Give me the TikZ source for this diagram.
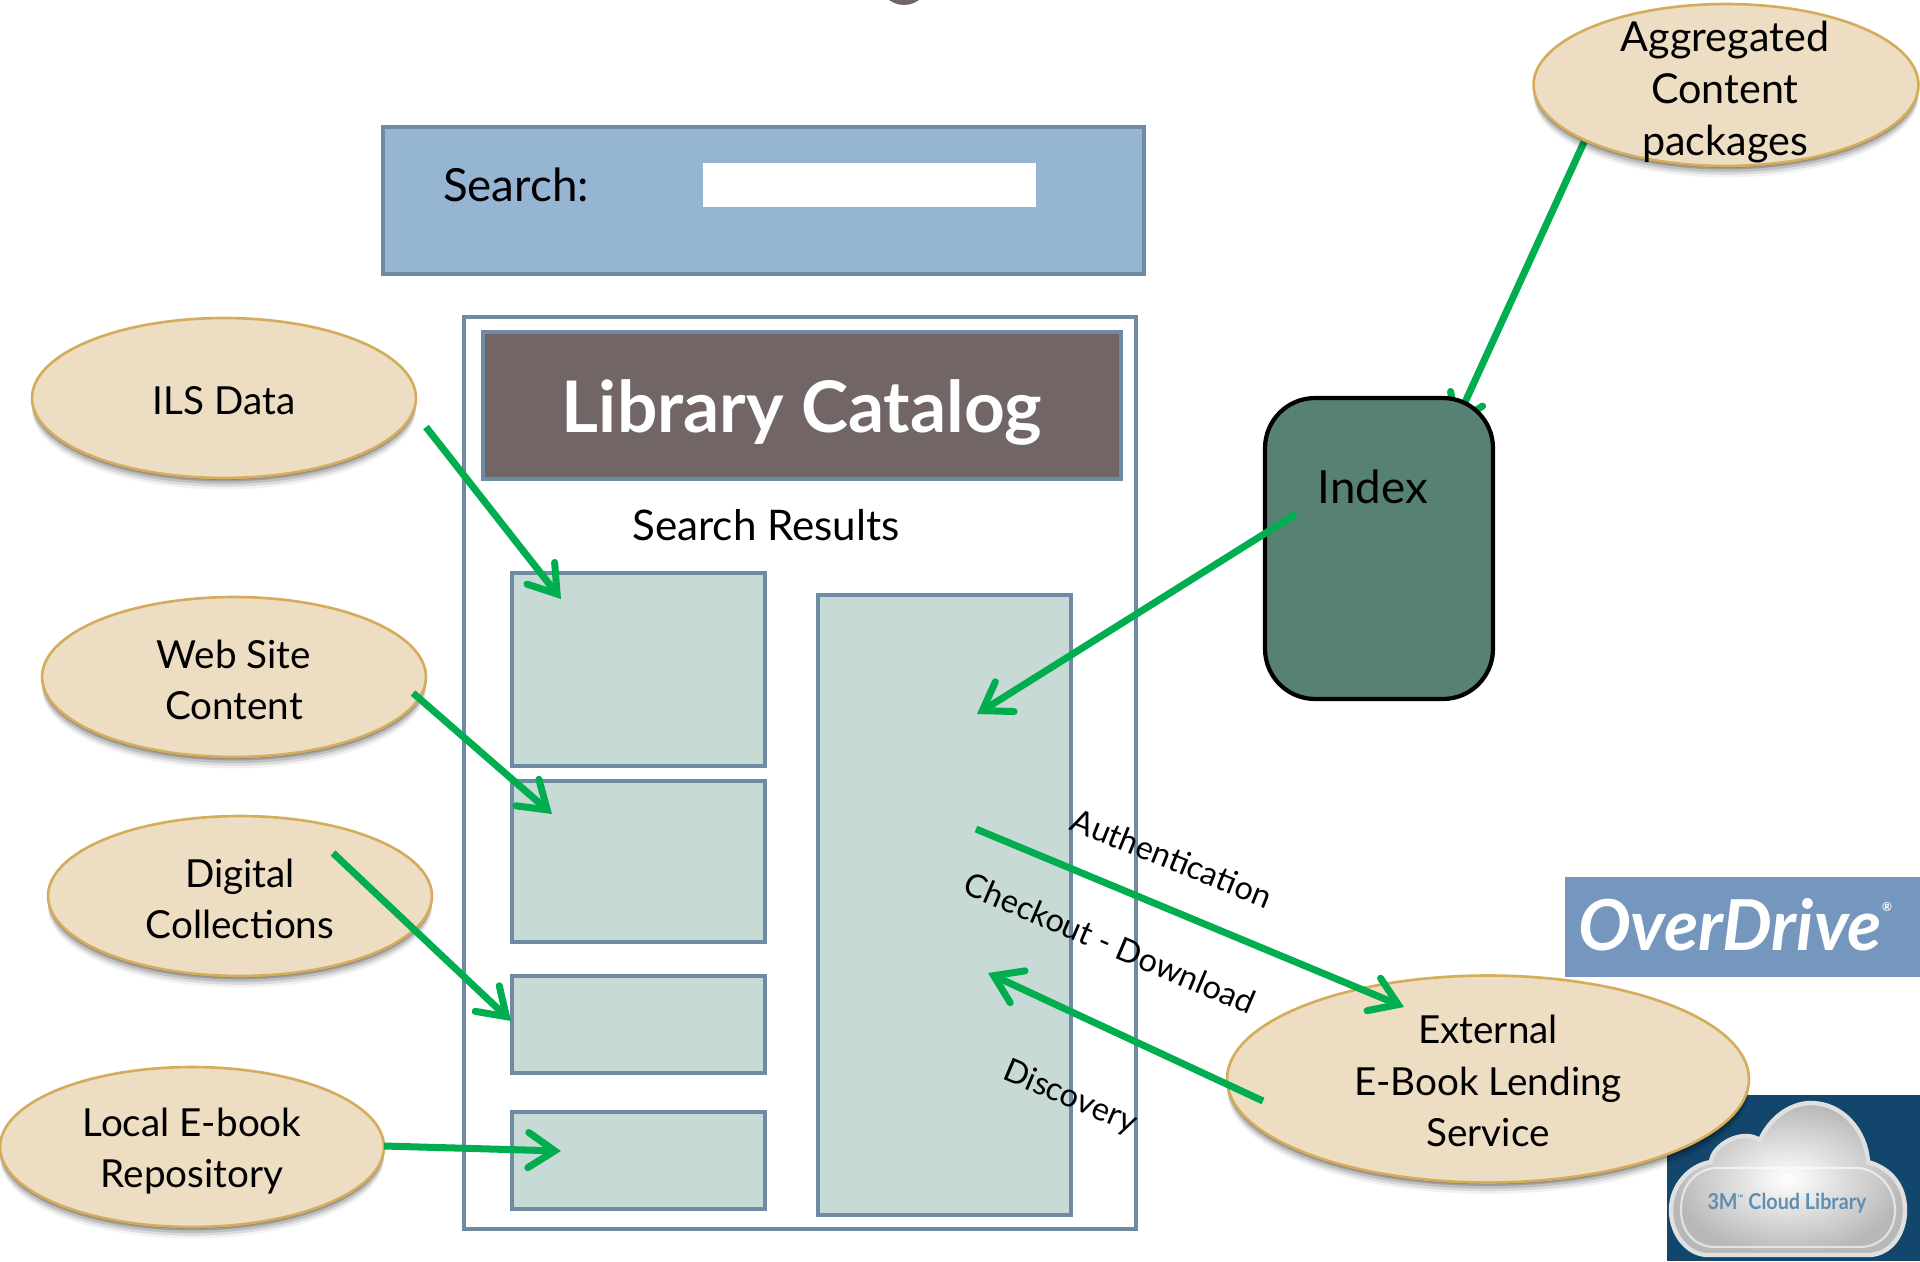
\documentclass[tikz,border=0pt]{standalone}
\usepackage{fontspec}
\setmainfont{Lato}
\usetikzlibrary{arrows.meta,shapes.geometric,shadows,backgrounds}

\definecolor{ovalfill}{HTML}{EDDDC3}
\definecolor{ovalline}{HTML}{D4AC5C}
\definecolor{boxline}{HTML}{6F8BA4}
\definecolor{searchfill}{HTML}{95B5D3}
\definecolor{titlefill}{HTML}{716665}
\definecolor{resultfill}{HTML}{C8DAD5}
\definecolor{indexfill}{HTML}{588176}
\definecolor{arrowgreen}{HTML}{00AE50}
\definecolor{overfill}{HTML}{7596BD}
\definecolor{cloudfill}{HTML}{12466C}
\definecolor{cloudtext}{HTML}{5F8FB0}

\tikzset{
	source/.style={ellipse, draw=ovalline, fill=ovalfill, line width=1.5pt, inner sep=0pt,
		minimum width=7.68cm, minimum height=3.2cm,
		drop shadow={shadow xshift=0pt, shadow yshift=-1pt, opacity=.22, fill=black},
		drop shadow={shadow xshift=0pt, shadow yshift=-2pt, opacity=.18, fill=black},
		drop shadow={shadow xshift=0pt, shadow yshift=-3.5pt, opacity=.13, fill=black},
		drop shadow={shadow xshift=0pt, shadow yshift=-5pt, opacity=.09, fill=black},
		drop shadow={shadow xshift=0pt, shadow yshift=-6.5pt, opacity=.05, fill=black}},
	sourcetext/.style={align=center, font=\fontsize{22}{29.2}\selectfont},
	result/.style={draw=boxline, fill=resultfill, line width=2.2pt, minimum width=5.06cm},
	feed/.style={draw=arrowgreen, line width=4pt, line join=miter,
		-{Straight Barb[length=15pt,width=20pt,line cap=round]}},
	tilted/.style={font=\fontsize{18.5}{22}\selectfont}
}

\begin{document}
\begin{tikzpicture}[x=0.02cm,y=-0.02cm]
	\useasboundingbox (0,0) rectangle (1920,1261);
	\node[circle, fill=titlefill, minimum size=1cm, inner sep=0pt] (dot) at (904,-20) {};

	% logos
	\node[fill=overfill, minimum width=7.1cm, minimum height=2cm, inner sep=0pt] (overdrive) at (1742.5,927) {};
	\node[text=white, font=\fontsize{40}{40}\selectfont\bfseries\itshape] (overtext) at (1735,925) {OverDrive\raisebox{1.1ex}{\fontsize{7}{7}\selectfont ®}};
	\node[fill=cloudfill, minimum width=5.06cm, minimum height=3.32cm, inner sep=0pt] (cloudbox) at (1793.5,1178) {};
	\draw[draw=black!12, line width=2.5pt, inner color=white, outer color=black!28]
		(1671,1210) .. controls (1671,1185) and (1690,1165) .. (1711,1162)
		.. controls (1712,1145) and (1742,1128) .. (1760,1140)
		.. controls (1770,1118) and (1790,1103) .. (1811,1103)
		.. controls (1842,1103) and (1866,1130) .. (1868,1162)
		.. controls (1890,1168) and (1905,1185) .. (1905,1210)
		.. controls (1905,1235) and (1890,1255) .. (1868,1255)
		-- (1708,1255) .. controls (1688,1255) and (1671,1235) .. (1671,1210) -- cycle;
	\draw[draw=white, draw opacity=.6, line width=1.2pt] (1681,1210) .. controls (1681,1185) and (1695,1170) .. (1715,1168)
		-- (1860,1168) .. controls (1880,1172) and (1895,1188) .. (1895,1210)
		.. controls (1895,1232) and (1880,1247) .. (1860,1247) -- (1715,1247)
		.. controls (1695,1247) and (1681,1232) .. (1681,1210) -- cycle;
	\node[text=cloudtext, xscale=.9, transform shape, font=\fontsize{12.5}{14}\selectfont\bfseries] (cloudtext) at (1787,1203) {3M\raisebox{.7ex}{\fontsize{5}{5}\selectfont ™} Cloud Library};

	% search bar
	\node[draw=boxline, fill=searchfill, line width=2.5pt, minimum width=15.22cm, minimum height=2.94cm] (search) at (763.5,200.5) {};
	\node[fill=white, minimum width=6.66cm, minimum height=.88cm, inner sep=0pt] (searchfield) at (869.5,185) {};
	\node[font=\fontsize{26}{30}\selectfont] (searchlabel) at (516,185) {Search:};

	% catalog page
	\node[draw=boxline, line width=2.2pt, minimum width=13.44cm, minimum height=18.24cm] (page) at (800,773) {};
	\node[draw=boxline, fill=titlefill, line width=2.5pt, minimum width=12.76cm, minimum height=2.94cm] (title) at (802,405.5) {};
	\node[text=white, font=\fontsize{40.5}{44}\selectfont\bfseries] (titlelabel) at (802,412) {Library Catalog};
	\node[font=\fontsize{24}{28}\selectfont] (resultslabel) at (766,525) {Search Results};
	\node[result, minimum height=3.86cm] (hitone) at (638.5,669.5) {};
	\node[result, minimum height=3.22cm] (hittwo) at (638.5,861.5) {};
	\node[result, minimum height=1.94cm] (hitthree) at (638.5,1024.5) {};
	\node[result, minimum height=1.94cm] (hitfour) at (638.5,1160.5) {};
	\node[result, minimum height=12.4cm] (hitmain) at (944.5,905) {};

	% index
	\node[rounded corners=1cm, draw=black, fill=indexfill, line width=2.4pt, minimum width=4.56cm, minimum height=6.02cm] (index) at (1379,548.5) {};
	\node[font=\fontsize{26}{30}\selectfont] (indexlabel) at (1373,487) {Index};

	% sources
	\node[source] (ils) at (224,398) {};
	\node[sourcetext] (ilslabel) at (224,401) {ILS Data};
	\node[source] (web) at (234,677) {};
	\node[sourcetext] (weblabel) at (234,680) {Web Site\\Content};
	\node[source] (digital) at (240,896) {};
	\node[sourcetext] (digitallabel) at (240,899) {Digital\\Collections};
	\node[source] (local) at (192,1147) {};
	\node[sourcetext] (locallabel) at (192,1151) {Local E-book\\Repository};
	\node[source, minimum width=7.7cm, minimum height=3.24cm] (aggregated) at (1726,85) {};
	\node[sourcetext, font=\fontsize{23.5}{29.4}\selectfont] (aggregatedlabel) at (1725,92) {Aggregated\\Content\\packages};
	\node[source, minimum width=10.44cm, minimum height=4.14cm] (external) at (1488,1079) {};
	\node[sourcetext] (externallabel) at (1488,1081) {External\\E-Book Lending\\Service};

	% connectors
	\draw[feed] ([shift={(202,29)}]ils.center)--([shift={(-77.5,-70.5)}]hitone.center);
	\draw[feed] ([shift={(179,16)}]web.center)--([shift={(-86.5,-47.5)}]hittwo.center);
	\draw[feed] ([shift={(93,-43)}]digital.center)--([shift={(-127.5,-3.5)}]hitthree.center);
	\draw[feed] ([shift={(192,-1)}]local.center)--([shift={(-77.5,-9.5)}]hitfour.center);
	\draw[feed] ([shift={(-83,-34.5)}]index.center)--([shift={(32.5,-191)}]hitmain.center);
	\draw[feed] ([shift={(31.5,-76)}]hitmain.center)--([shift={(-84,-72)}]external.center);
	\draw[feed] ([shift={(-225,22)}]external.center)--([shift={(43.5,68)}]hitmain.center);
	\begin{pgfonlayer}{background}
		\draw[feed] ([shift={(-142,57)}]aggregated.center)--([shift={(74,-120)}]index.center);
	\end{pgfonlayer}

	\node[tilted, rotate=-22] (authlabel) at (1172,858) {Authentication};
	\node[tilted, rotate=-23] (checkoutlabel) at (1110,943) {Checkout - Download};
	\node[tilted, rotate=-23] (discoverylabel) at (1070,1098) {Discovery};
\end{tikzpicture}
\end{document}
